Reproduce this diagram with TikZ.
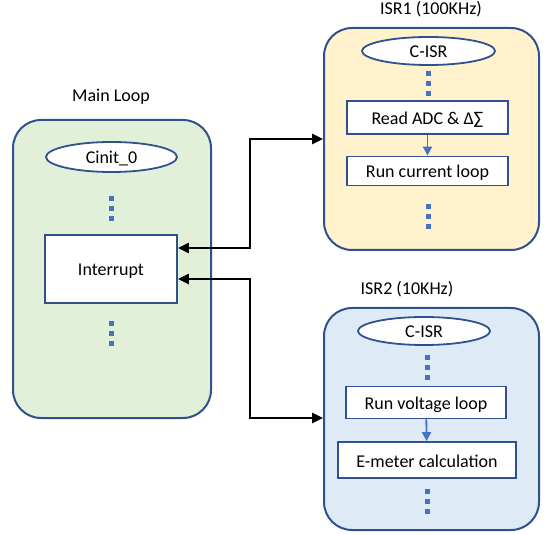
\documentclass[tikz,border=0pt]{standalone}
\usepackage{fontspec}
\setmainfont{Carlito}
\usetikzlibrary{arrows.meta,shapes.geometric}
\definecolor{edgec}{HTML}{2F528F}
\definecolor{gfill}{HTML}{E2F0D9}
\definecolor{yfill}{HTML}{FFF2CC}
\definecolor{bfill}{HTML}{DEEBF7}
\definecolor{dotc}{HTML}{4472C4}
\tikzset{
  container/.style={draw=edgec, line width=2pt, rounded corners=28pt, rectangle, inner sep=0pt},
  stepbox/.style={draw=edgec, line width=1.8pt, fill=white, rectangle, inner sep=0pt, text height=14pt, text depth=0pt},
  startell/.style={draw=edgec, line width=1.8pt, fill=white, ellipse, inner sep=0pt, text height=14pt, text depth=0pt},
  title/.style={anchor=base, inner sep=0pt},
  dotline/.style={dotc, line width=5pt, dash pattern=on 5pt off 5pt},
  link/.style={black, line width=2.5pt, {Triangle[length=11pt,width=10pt]}-{Triangle[length=11pt,width=10pt]}},
  flow/.style={dotc, line width=1.8pt, -{Triangle[length=9pt,width=9pt]}}
}
\begin{document}
\begin{tikzpicture}[x=1pt,y=-1pt,font=\fontsize{18}{22}\selectfont]
\useasboundingbox (0,0) rectangle (554,534);

% containers
\node[container, fill=gfill, minimum width=198pt, minimum height=298pt] (main) at (112,269) {};
\node[container, fill=yfill, minimum width=215pt, minimum height=222pt] (isr1) at (431.5,139) {};
\node[container, fill=bfill, minimum width=215pt, minimum height=222pt] (isr2) at (431.5,419) {};

% titles
\node[title] (tmain) at (111,102) {Main Loop};
\node[title] (tisr1) at (431,15) {ISR1 (100KHz)};
\node[title] (tisr2) at (407,295) {ISR2 (10KHz)};

% main loop contents
\node[startell, minimum width=131pt, minimum height=30pt] (cinit) at (111.5,157) {Cinit\_0};
\node[stepbox, minimum width=132pt, minimum height=68pt] (intr) at (111,269) {Interrupt};
\draw[dotline] (111,196) -- (111,221);
\draw[dotline] (111,321) -- (111,346);

% ISR1 contents
\node[startell, minimum width=133pt, minimum height=28pt] (cisr1) at (428.5,51) {C-ISR};
\node[stepbox, minimum width=161pt, minimum height=33pt] (adc) at (427.5,117.5) {Read ADC \& Δ∑};
\node[stepbox, minimum width=161pt, minimum height=29pt] (cur) at (427.5,171) {Run current loop};
\draw[dotline] (428,71) -- (428,96);
\draw[dotline] (428,204) -- (428,229);
\draw[flow] (adc) -- (cur);

% ISR2 contents
\node[startell, minimum width=132pt, minimum height=28pt] (cisr2) at (424,331) {C-ISR};
\node[stepbox, minimum width=160pt, minimum height=32pt] (volt) at (426,402.5) {Run voltage loop};
\node[stepbox, minimum width=178pt, minimum height=36pt] (emet) at (427,460) {E-meter calculation};
\draw[dotline] (427,355) -- (427,380);
\draw[dotline] (427,489) -- (427,514);
\draw[flow] (volt) -- (emet);

% links
\draw[link] (intr.east |- 0,248) -| (250,139) -- (isr1.west |- 0,139);
\draw[link] (intr.east |- 0,279) -| (250,418) -- (isr2.west |- 0,418);
\end{tikzpicture}
\end{document}
